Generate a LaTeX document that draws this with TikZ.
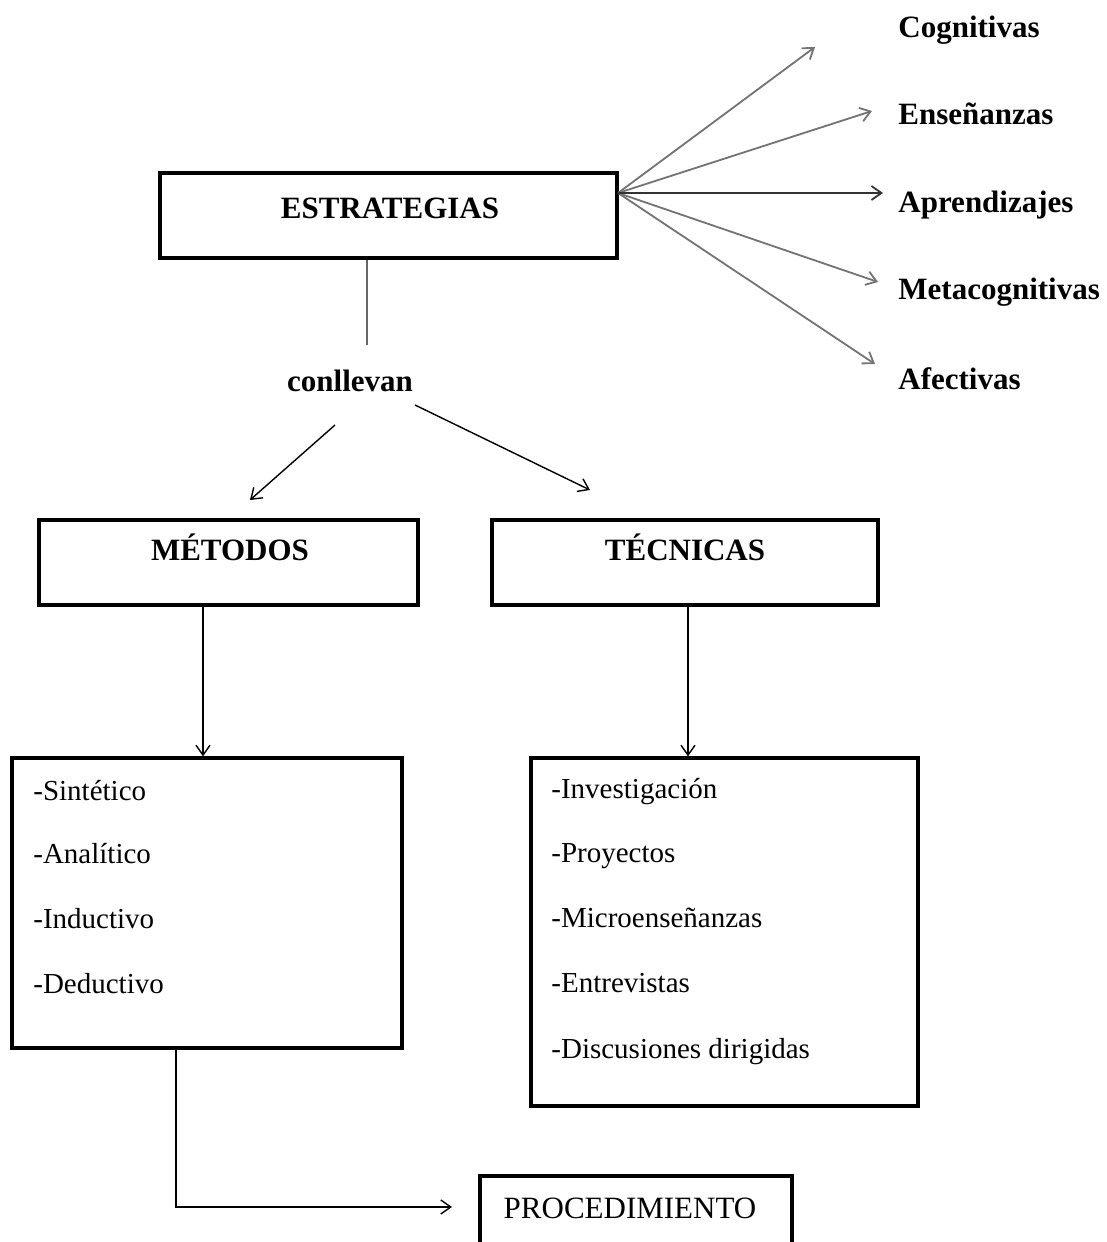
\documentclass[tikz,border=0pt]{standalone}
\usepackage{fontspec}
\setmainfont{Liberation Serif}
\usetikzlibrary{arrows.meta}

\tikzset{
  box/.style={draw, line width=1.6pt, inner sep=0pt},
  lbl/.style={font=\fontsize{15.5}{18}\selectfont\bfseries, inner sep=0pt, anchor=base},
  item/.style={font=\fontsize{14.5}{17}\selectfont, inner sep=0pt, anchor=base west},
  fan/.style={->, draw=black!55, line width=0.9pt},
  link/.style={->, line width=0.7pt},
}

\begin{document}
\begin{tikzpicture}[x=0.5pt, y=-0.5pt, >={Straight Barb[length=5pt,width=7pt]}]
  \useasboundingbox (0,0) rectangle (1107,1242);

    \node[box, minimum width=228.5pt, minimum height=42.5pt] (e) at (388.5,215.5) {};
    \node[lbl] (et) at (390,218) {ESTRATEGIAS};
    \node[lbl] (c) at (350,391) {conllevan};
    \node[box, minimum width=189.5pt, minimum height=42.5pt] (m) at (228.5,562.5) {};
    \node[lbl] (mt) at (230,560) {MÉTODOS};
    \node[box, minimum width=193pt, minimum height=42.5pt] (t) at (685,562.5) {};
    \node[lbl] (tt) at (685,560) {TÉCNICAS};
    \node[box, minimum width=195pt, minimum height=145pt] (ml) at (207,903) {};
    \node[box, minimum width=193.5pt, minimum height=174pt] (tl) at (724.5,932) {};
    \node[box, minimum width=156pt, minimum height=50pt] (p) at (636,1226) {};
    \node[font=\fontsize{15.5}{18}\selectfont, inner sep=0pt, anchor=base] (pt) at (630,1218) {PROCEDIMIENTO};

    % types of strategies
    \node[lbl, anchor=base west] (r1) at (898,37) {Cognitivas};
    \node[lbl, anchor=base west] (r2) at (898,124) {Enseñanzas};
    \node[lbl, anchor=base west] (r3) at (898,212) {Aprendizajes};
    \node[lbl, anchor=base west] (r4) at (898,299) {Metacognitivas};
    \node[lbl, anchor=base west] (r5) at (898,389) {Afectivas};

    \coordinate (o) at (618,193);
    \coordinate (a1) at (815,47);
    \coordinate (a2) at (872,111);
    \coordinate (a3) at (883,193);
    \coordinate (a4) at (878,282);
    \coordinate (a5) at (875,364);
    \foreach \i in {1,2,4,5}
      \draw[fan] (o) -- (a\i);
    \draw[fan, draw=black!80] (o) -- (a3);

    % lists
    \foreach \y/\s in {800/-Sintético, 863/-Analítico, 928/-Inductivo, 993/-Deductivo}
      \node[item] at (33,\y) {\s};
    \foreach \y/\s in {798/-Investigación, 862/-Proyectos, 927/-Microenseñanzas, 992/-Entrevistas, 1058/-Discusiones dirigidas}
      \node[item] at (551,\y) {\s};

    \coordinate (e1) at (367,345);
    \coordinate (c1) at (335,425);
    \coordinate (c2) at (250,500);
    \coordinate (c3) at (415,405);
    \coordinate (c4) at (590,490);
    \coordinate (q) at (452,1207);
    \draw[draw=black!60, line width=0.7pt] (e.south -| e1) -- (e1);
    \draw[link] (c1) -- (c2);
    \draw[link] (c3) -- (c4);
    \draw[link] (m.south -| 203,0) -- (ml.north -| 203,0);
    \draw[link] (t.south -| 688,0) -- (tl.north -| 688,0);
    \draw[link] (ml.south -| 176,0) |- (q);

\end{tikzpicture}
\end{document}
